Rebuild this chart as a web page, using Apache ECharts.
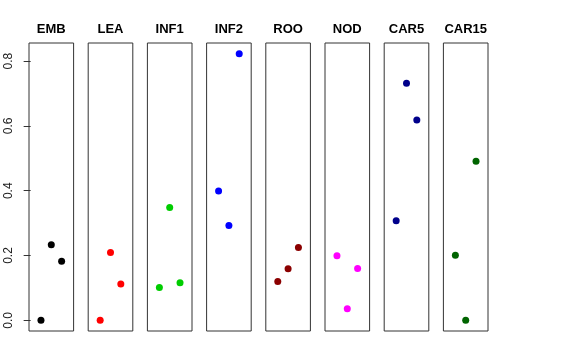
<!DOCTYPE html>
<html>
<head>
<meta charset="utf-8">
<script src="https://cdn.jsdelivr.net/npm/echarts@6/dist/echarts.min.js"></script>
<style>html,body{margin:0;padding:0;background:#fff}#c{width:576px;height:360px}</style>
</head>
<body>
<div id="c"></div>
<script>
const panels = ["EMB", "LEA", "INF1", "INF2", "ROO", "NOD", "CAR5", "CAR15"];
const colors = ["#000000", "#FF0000", "#00CD00", "#0000FF", "#8B0000", "#FF00FF", "#00008B", "#006400"];
const replicate = [1, 2, 3];
const EMB = [0.0, 0.233, 0.182];
const LEA = [0.0, 0.209, 0.112];
const INF1 = [0.101, 0.348, 0.116];
const INF2 = [0.399, 0.293, 0.823];
const ROO = [0.120, 0.159, 0.225];
const NOD = [0.199, 0.036, 0.160];
const CAR5 = [0.307, 0.732, 0.618];
const CAR15 = [0.201, 0.0, 0.491];
const values = [EMB, LEA, INF1, INF2, ROO, NOD, CAR5, CAR15];
const yTicks = [0.0, 0.2, 0.4, 0.6, 0.8];

(function () {
const font = "Liberation Sans, Arial, Helvetica, sans-serif";
const left0 = 29, step = 59.2, w = 44.6, gTop = 43, h = 288;
const yMax = 0.823, yMin = 0;
const pad = (yMax - yMin) * 0.04;

const grids = [], xAxes = [], yAxes = [], series = [], titles = [];
panels.forEach((name, i) => {
  const l = left0 + i * step;
  grids.push({left: l, top: gTop, width: w, height: h, show: true, borderColor: '#333', borderWidth: 1, backgroundColor: 'transparent', containLabel: false});
  xAxes.push({type: 'value', gridIndex: i, min: 0 - 4 * 0.04, max: 4 + 4 * 0.04, show: false});
  const ya = {type: 'value', gridIndex: i, min: yMin - pad, max: yMax + pad, splitLine: {show: false}, axisLine: {show: false}};
  if (i === 0) {
    ya.axisTick = {show: true, inside: false, length: 7, lineStyle: {color: '#333'}, customValues: yTicks};
    ya.axisLabel = {show: true, customValues: yTicks, rotate: 90, margin: 14, color: '#222', fontSize: 12, fontFamily: font, formatter: v => v.toFixed(1)};
  } else {
    ya.axisTick = {show: false};
    ya.axisLabel = {show: false};
  }
  yAxes.push(ya);
  series.push({type: 'scatter', xAxisIndex: i, yAxisIndex: i, symbol: 'circle', symbolSize: 7, itemStyle: {color: colors[i], opacity: 1}, data: replicate.map((x, k) => [x, values[i][k]])});
  titles.push({text: name, left: l + w / 2, top: 23, textAlign: 'center', padding: 0, textStyle: {fontSize: 13, fontWeight: 'bold', color: '#000', fontFamily: font}});
});

const chart = echarts.init(document.getElementById('c'), null, {renderer: 'canvas'});
chart.setOption({animation: false, backgroundColor: '#fff', title: titles, grid: grids, xAxis: xAxes, yAxis: yAxes, series: series});
})();
</script>
</body>
</html>
